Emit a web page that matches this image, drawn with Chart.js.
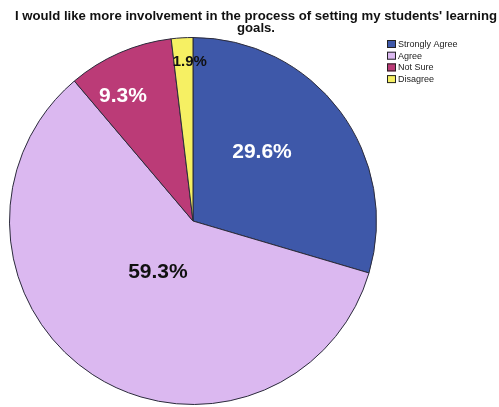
<!DOCTYPE html>
<html>
<head>
<meta charset="utf-8">
<script src="https://cdn.jsdelivr.net/npm/chart.js@4"></script>
<style>
  html, body { margin: 0; padding: 0; background: #fff; }
  #wrap { width: 499px; height: 407px; position: relative; }
</style>
</head>
<body>
<div id="wrap"><canvas id="pie"></canvas></div>
<script>
var titleLines = ['I would like more involvement in the process of setting my students\' learning', 'goals.'];
var categories = ['Strongly Agree', 'Agree', 'Not Sure', 'Disagree'];
var percents = [29.6, 59.3, 9.3, 1.9];
var sliceColors = ['#3e58a9', '#dbb8f0', '#bb3b77', '#f6f063'];
var labelColors = ['#ffffff', '#111111', '#ffffff', '#111111'];

var FONT = 'Arial, "Liberation Sans", sans-serif';

// two-line heading, a little wider than the plain font
var heading = {
  id: 'heading',
  afterDraw: function(chart) {
    var ctx = chart.ctx;
    ctx.save();
    ctx.font = 'bold 12px ' + FONT;
    var sx = 482 / ctx.measureText(titleLines[0]).width;
    ctx.fillStyle = '#111';
    ctx.textAlign = 'center';
    ctx.textBaseline = 'alphabetic';
    ctx.translate(256, 0);
    ctx.scale(sx, 1);
    ctx.fillText(titleLines[0], 0, 19.5);
    ctx.fillText(titleLines[1], 0, 31.5);
    ctx.restore();
  }
};

// value labels inside each slice, placed along the slice's mid angle
var sliceLabels = {
  id: 'sliceLabels',
  afterDatasetsDraw: function(chart, args, opts) {
    var ctx = chart.ctx;
    var arcs = chart.getDatasetMeta(0).data;
    ctx.save();
    ctx.textAlign = 'center';
    ctx.textBaseline = 'middle';
    arcs.forEach(function(arc, i) {
      var p = arc.getProps(['x', 'y', 'startAngle', 'endAngle', 'outerRadius'], true);
      var mid = (p.startAngle + p.endAngle) / 2 + (opts.angleShift[i] || 0);
      var r = p.outerRadius * opts.radius[i];
      ctx.font = 'bold ' + opts.size[i] + 'px ' + FONT;
      ctx.fillStyle = labelColors[i];
      ctx.fillText(percents[i].toFixed(1) + '%', p.x + Math.cos(mid) * r, p.y + Math.sin(mid) * r);
    });
    ctx.restore();
  }
};

// small boxed legend at the upper right
var sideLegend = {
  id: 'sideLegend',
  afterDraw: function(chart) {
    var ctx = chart.ctx;
    var x = 387, y = 40, step = 11.7;
    ctx.save();
    ctx.font = '9px ' + FONT;
    ctx.textBaseline = 'middle';
    categories.forEach(function(name, i) {
      var top = y + i * step;
      ctx.fillStyle = sliceColors[i];
      ctx.fillRect(x, top, 9, 8);
      ctx.strokeStyle = '#222';
      ctx.lineWidth = 1;
      ctx.strokeRect(x + 0.5, top + 0.5, 8, 7);
      ctx.fillStyle = '#222';
      ctx.fillText(name, x + 11, top + 4.5);
    });
    ctx.restore();
  }
};

new Chart(document.getElementById('pie'), {
  type: 'pie',
  data: {
    labels: categories,
    datasets: [{
      data: percents,
      backgroundColor: sliceColors,
      borderColor: '#2b2b3b',
      borderWidth: 1
    }]
  },
  options: {
    responsive: true,
    maintainAspectRatio: false,
    animation: false,
    layout: { padding: { left: 8, right: 121, top: 37, bottom: 2 } },
    plugins: {
      legend: { display: false },
      tooltip: { enabled: false },
      title: { display: false },
      sliceLabels: {
        radius: [0.53, 0.34, 0.78, 0.87],
        angleShift: [-0.14, 0.02, -0.1, 0.04],
        size: [21, 21, 21, 15]
      }
    }
  },
  plugins: [sliceLabels, sideLegend, heading]
});
</script>
</body>
</html>
